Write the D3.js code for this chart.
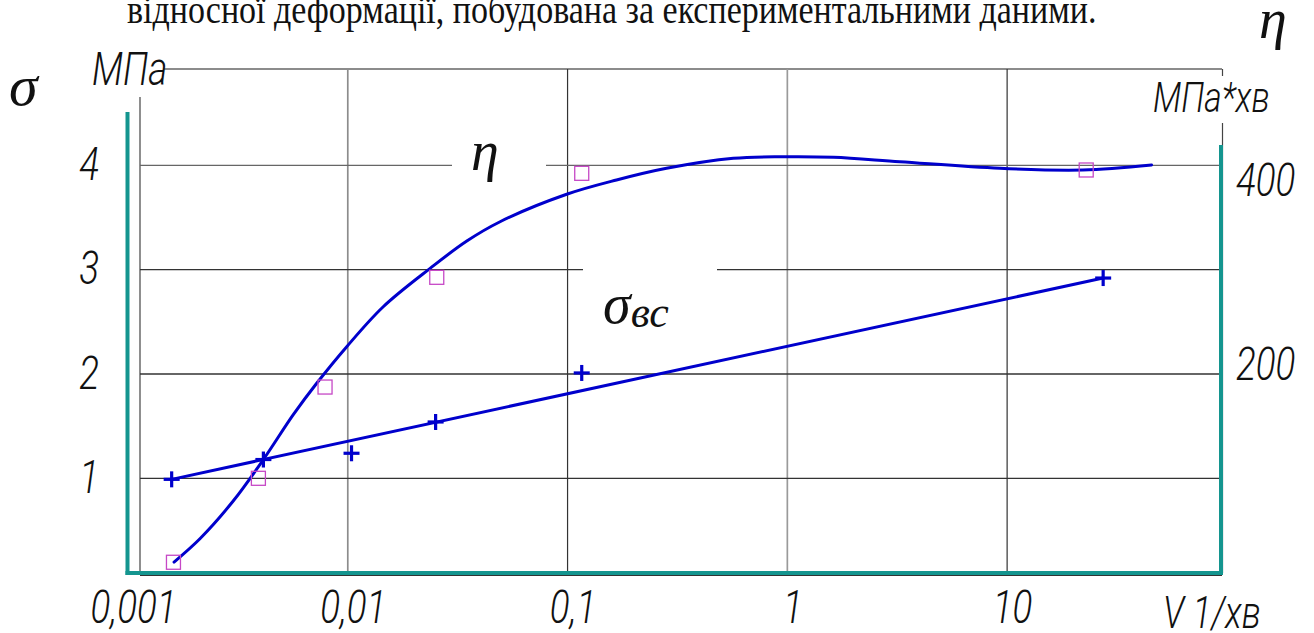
<!DOCTYPE html>
<html>
<head>
<meta charset="utf-8">
<script src="https://cdn.jsdelivr.net/npm/d3@7"></script>
<style>
  html, body { margin: 0; padding: 0; background: #fff; }
  svg { display: block; }
</style>
</head>
<body>
<svg id="chart" width="1314" height="633"></svg>
<script>
// ---------------- DATA ----------------
const xTicks = [0.001, 0.01, 0.1, 1, 10];
const xTickLabels = ["0,001", "0,01", "0,1", "1", "10"];
const sigmaTicks = [1, 2, 3, 4];
const etaTicks = [200, 400];

// σ_вс experimental points (+)
const sigmaX = [0.00158, 0.00413, 0.0104, 0.0251, 0.116, 27.35];
const sigmaY = [0.99, 1.18, 1.24, 1.54, 2.01, 2.92];
// σ_вс fitted line
const sigmaFitX = [0.00158, 27.35];
const sigmaFitY = [0.99, 2.92];

// η experimental points (squares)
const etaX = [0.00161, 0.00392, 0.00788, 0.0254, 0.116, 22.9];
const etaY = [19.5, 100, 187.5, 292.7, 392.4, 395.6];
// η fitted curve
const etaCurveX = [0.00162, 0.00213, 0.00301, 0.00413, 0.00565, 0.00722, 0.00989, 0.0145, 0.0237, 0.0348, 0.0493, 0.0991, 0.167, 0.282, 0.568, 0.957, 1.62, 3.25, 9.27, 22.1, 45.4];
const etaCurveY = [19.7, 42.3, 78.2, 118.0, 161.0, 191.1, 226.2, 264.5, 301.3, 327.5, 346, 372.3, 386, 397.2, 406.8, 408.3, 407.8, 403.5, 397.2, 395.6, 400.4];

// ---------------- LAYOUT ----------------
const svg = d3.select("#chart");
const X0 = 128, X1 = 1221, YB = 573, YT = 69;
const x = d3.scaleLog().domain([0.001, 94]).range([X0, X1]);
const y = d3.scaleLinear().domain([0, 4]).range([582.6, 165.4]);
const etaScale = d3.scaleLinear().domain([0, 400]).range([582.6, 165.4]);
const etaAxisScale = d3.scaleLinear().domain([200, 400]).range([363, 179]);

const TEAL = "#14958f", BLUE = "#0000cc", MAG = "#c648c6";
const GOST = "Roboto, 'Liberation Sans', sans-serif";
const SERIF = "'Liberation Serif', 'DejaVu Serif', serif";

// Title (cut at top, as in the source page)
svg.append("text").attr("transform", "translate(127,23) scale(1,1.2)")
  .style("font-family", SERIF).style("font-size", "34px").attr("fill", "#111")
  .text("відносної деформації, побудована за експериментальними даними.");

// Frame lines
const frame = svg.append("g").attr("fill", "none");
frame.append("line").attr("x1", 164).attr("x2", 1222).attr("y1", YT).attr("y2", YT).attr("stroke", "#666").attr("stroke-width", 1.3);
frame.append("line").attr("x1", 140).attr("x2", 140).attr("y1", 97).attr("y2", YB).attr("stroke", "#444").attr("stroke-width", 1.2);
frame.append("line").attr("x1", 1222.5).attr("x2", 1222.5).attr("y1", YT).attr("y2", 76).attr("stroke", "#444").attr("stroke-width", 1.2);
frame.append("line").attr("x1", 1222.5).attr("x2", 1222.5).attr("y1", 123).attr("y2", YB).attr("stroke", "#444").attr("stroke-width", 1.2);

// Vertical grid
const vColors = { 0.01: "#8c8c8c", 0.1: "#333", 1: "#9a9a9a", 10: "#333" };
[0.01, 0.1, 1, 10].forEach(v => {
  frame.append("line").attr("x1", x(v)).attr("x2", x(v)).attr("y1", YT).attr("y2", YB)
    .attr("stroke", vColors[v]).attr("stroke-width", (v === 0.01 || v === 1) ? 1.7 : 1.2);
});

// Horizontal grid (with gaps where the curve labels sit)
const gaps = { 4: [452, 546], 3: [583, 717] };
sigmaTicks.forEach(s => {
  const yy = y(s);
  const segs = gaps[s] ? [[140, gaps[s][0]], [gaps[s][1], 1221]] : [[140, 1221]];
  segs.forEach(([a, b]) => {
    frame.append("line").attr("x1", a).attr("x2", b).attr("y1", yy).attr("y2", yy)
      .attr("stroke", s === 4 ? "#666" : "#333").attr("stroke-width", 1.3);
  });
});

// Thin black bottom line under teal
frame.append("line").attr("x1", 140).attr("x2", 1222).attr("y1", 575.5).attr("y2", 575.5).attr("stroke", "#333").attr("stroke-width", 1);

// Teal axes
const teal = svg.append("g").attr("stroke", TEAL).attr("stroke-width", 4).attr("fill", "none");
teal.append("line").attr("x1", 127.5).attr("x2", 127.5).attr("y1", 112).attr("y2", 575);
teal.append("line").attr("x1", 125.5).attr("x2", 1223).attr("y1", 573).attr("y2", 573);
teal.append("line").attr("x1", 1221).attr("x2", 1221).attr("y1", 145).attr("y2", 575);

// Axes (labels only)
function styleGost(g) {
  g.select(".domain").remove();
  g.selectAll(".tick line").remove();
  g.attr("font-family", null).attr("font-size", null);
  g.selectAll("text")
    .style("font-family", GOST).style("font-size", "46px").style("font-weight", 300)
    .style("font-style", "italic").attr("fill", "#111");
}
const gx = svg.append("g").attr("transform", `translate(0,${YB})`)
  .call(d3.axisBottom(x).tickValues(xTicks).tickFormat((d, i) => xTickLabels[i]).tickSize(0));
styleGost(gx);
gx.selectAll("text").attr("y", 50).attr("dy", null).attr("transform", "translate(5,0) scale(0.8,1)");

const gy = svg.append("g").attr("transform", "translate(99,0)")
  .call(d3.axisLeft(y).tickValues(sigmaTicks).tickFormat(d3.format("d")).tickSize(0).tickPadding(0));
styleGost(gy);
gy.selectAll("text").attr("x", 0).attr("y", 14).attr("dy", null).attr("transform", "scale(0.8,1)");

const gr = svg.append("g").attr("transform", "translate(1236,0)")
  .call(d3.axisRight(etaAxisScale).tickValues(etaTicks).tickFormat(d3.format("d")).tickSize(0).tickPadding(0));
styleGost(gr);
gr.selectAll("text").attr("x", 0).attr("y", 16).attr("dy", null).attr("transform", "scale(0.8,1)");

// GOST-style free labels
function gostText(txt, tx, ty, fs, anchor) {
  svg.append("text").attr("transform", `translate(${tx},${ty}) scale(0.8,1)`)
    .attr("text-anchor", anchor || "start")
    .style("font-family", GOST).style("font-size", fs + "px").style("font-weight", 300)
    .style("font-style", "italic").attr("fill", "#111").text(txt);
}
gostText("МПа", 92, 85, 46);
gostText("МПа*хв", 1153, 112, 42);
gostText("V 1/хв", 1163, 628, 44);

// Serif symbols
function serifText(txt, tx, ty, fs) {
  return svg.append("text").attr("x", tx).attr("y", ty)
    .style("font-family", SERIF).style("font-size", fs + "px").style("font-style", "italic")
    .attr("fill", "#111").text(txt);
}
serifText("σ", 9, 105, 58);
serifText("η", 1259, 38, 56);
serifText("η", 471, 170, 56);
const sv = serifText("σ", 603, 323, 56);
sv.append("tspan").attr("dy", 4).style("font-size", "44px").text("вс");

// ---------------- MARKS ----------------
const etaCurve = etaCurveX.map((v, i) => [v, etaCurveY[i]]);
svg.append("path").datum(etaCurve)
  .attr("fill", "none").attr("stroke", BLUE).attr("stroke-width", 3).attr("stroke-linecap", "round")
  .attr("d", d3.line().x(d => x(d[0])).y(d => etaScale(d[1])).curve(d3.curveCatmullRom.alpha(0.5)));

const sigmaFit = sigmaFitX.map((v, i) => [v, sigmaFitY[i]]);
svg.append("path").datum(sigmaFit)
  .attr("fill", "none").attr("stroke", BLUE).attr("stroke-width", 3)
  .attr("d", d3.line().x(d => x(d[0])).y(d => y(d[1])));

// squares
svg.append("g").selectAll("rect").data(etaX.map((v, i) => [v, etaY[i]])).join("rect")
  .attr("x", d => x(d[0]) - 7).attr("y", d => etaScale(d[1]) - 7)
  .attr("width", 14).attr("height", 14)
  .attr("fill", "none").attr("stroke", MAG).attr("stroke-width", 1.3);

// crosses
const cg = svg.append("g").attr("stroke", BLUE).attr("stroke-width", 3.2).attr("fill", "none");
sigmaX.forEach((v, i) => {
  const cx = x(v), cy = y(sigmaY[i]);
  cg.append("line").attr("x1", cx - 8).attr("x2", cx + 8).attr("y1", cy).attr("y2", cy);
  cg.append("line").attr("x1", cx).attr("x2", cx).attr("y1", cy - 8).attr("y2", cy + 8);
});
</script>
</body>
</html>
